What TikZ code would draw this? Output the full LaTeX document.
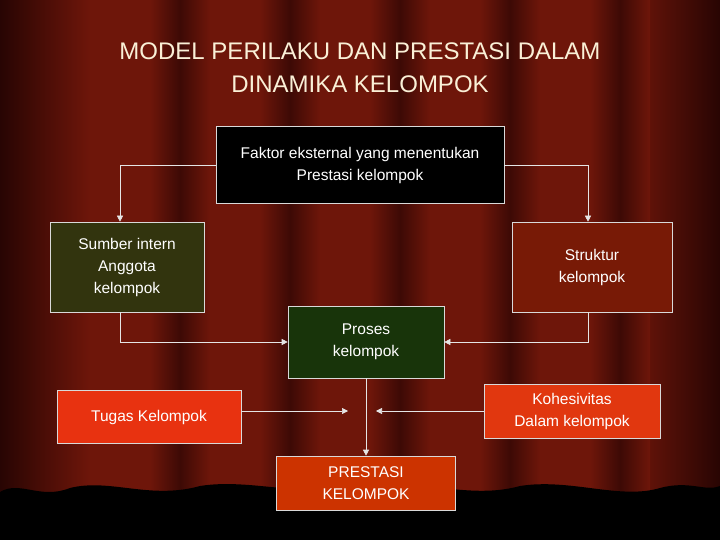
\documentclass[tikz,border=0pt]{standalone}
\usepackage{fontspec}
\setmainfont{Liberation Sans}
\usetikzlibrary{arrows.meta}
\definecolor{curtain}{RGB}{110,22,10}
\definecolor{curtaindark}{RGB}{40,5,3}
\definecolor{sumberfill}{RGB}{50,52,14}
\definecolor{strukturfill}{RGB}{120,26,6}
\definecolor{prosesfill}{RGB}{24,52,10}
\definecolor{tugasfill}{RGB}{232,50,16}
\definecolor{kohesifill}{RGB}{225,55,15}
\definecolor{prestasifill}{RGB}{204,51,0}
\definecolor{titlecol}{RGB}{250,240,215}
\tikzset{
  kotak/.style={draw=white!85!black, line width=0.6pt, text=white, align=center,
    font=\fontsize{15.5}{22}\selectfont, inner sep=2pt},
  panah/.style={draw=white!90!black, line width=0.6pt, -{Triangle[length=6pt,width=6pt]}}
}
\begin{document}
\begin{tikzpicture}[x=1pt,y=-1pt]
        % Latar
        \fill[curtain] (0,0) rectangle (720,540);
        \shade[left color=curtaindark, right color=curtain] (0,0) rectangle (90,540);
        \shade[left color=curtain, right color=curtaindark] (630,0) rectangle (720,540);
        \foreach \x in {150,260,370,480,590} {
            \shade[left color=curtain, right color=curtaindark!70!curtain] (\x,0) rectangle (\x+30,540);
            \shade[left color=curtaindark!70!curtain, right color=curtain] (\x+30,0) rectangle (\x+60,540);
        }
        \fill[black] (0,540) -- (0,492) .. controls (20,480) and (40,500) .. (70,488)
            .. controls (110,478) and (150,500) .. (200,486) .. controls (250,478) and (300,498) .. (360,486)
            .. controls (420,478) and (470,500) .. (520,486) .. controls (570,478) and (620,500) .. (660,488)
            .. controls (690,480) and (705,492) .. (720,486) -- (720,540) -- cycle;
        \useasboundingbox (0,0) rectangle (720,540);

        % Judul
        \node[text=titlecol, align=center, font=\fontsize{24}{33}\selectfont] (judul) at (360,68)
            {MODEL PERILAKU DAN PRESTASI DALAM\\DINAMIKA KELOMPOK};

        % Kotak
        \node[kotak, fill=black, minimum width=288pt, minimum height=77pt] (faktor) at (360,165)
            {Faktor eksternal yang menentukan\\Prestasi kelompok};
        \node[kotak, fill=sumberfill, minimum width=154pt, minimum height=90pt] (sumber) at (127,267)
            {Sumber intern\\Anggota\\kelompok};
        \node[kotak, fill=strukturfill, minimum width=160pt, minimum height=90pt] (struktur) at (592,267)
            {Struktur\\kelompok};
        \node[kotak, fill=prosesfill, minimum width=156pt, minimum height=72pt] (proses) at (366,342)
            {Proses\\kelompok};
        \node[kotak, fill=tugasfill, minimum width=184pt, minimum height=53pt] (tugas) at (149,417)
            {Tugas Kelompok};
        \node[kotak, fill=kohesifill, minimum width=176pt, minimum height=54pt] (kohesi) at (572,411)
            {Kohesivitas\\Dalam kelompok};
        \node[kotak, fill=prestasifill, minimum width=179pt, minimum height=54pt] (prestasi) at (366,483)
            {PRESTASI\\KELOMPOK};

        % Titik bantu
        \coordinate (tugasujung) at (348,411);
        \coordinate (kohesiujung) at (376,411);

        % Panah
        \draw[panah] (faktor.west) -| (sumber.north -| 120,0);
        \draw[panah] (faktor.east) -| (struktur.north -| 588,0);
        \draw[panah] (sumber.south -| 120,0) |- (proses.west);
        \draw[panah] (struktur.south -| 588,0) |- (proses.east);
        \draw[panah] (tugas.east |- tugasujung) -- (tugasujung);
        \draw[panah] (kohesi.west) -- (kohesiujung);
        \draw[panah] (proses.south) -- (prestasi.north);
    \end{tikzpicture}
\end{document}
